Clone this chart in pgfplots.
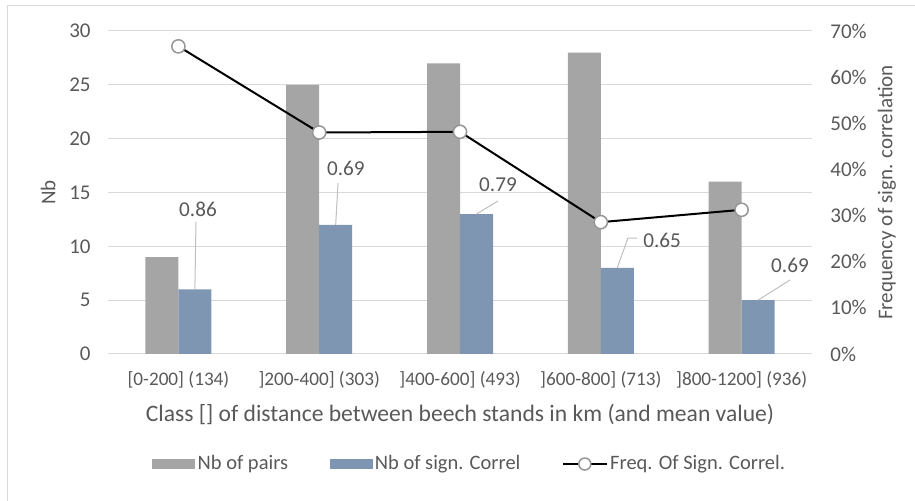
\documentclass[border=0pt]{standalone}
\usepackage{fontspec}
\setmainfont{Carlito}
\usepackage{pgfplots}
\pgfplotsset{compat=1.18}
\definecolor{pairsgray}{RGB}{165,165,165}
\definecolor{correlblue}{RGB}{127,150,178}
\definecolor{txtgray}{RGB}{89,89,89}
\definecolor{gridgray}{RGB}{217,217,217}
\definecolor{leadergray}{RGB}{191,191,191}
\definecolor{markgray}{RGB}{150,150,150}

\pgfplotsset{
  swatch/.style={legend image code/.code={\draw[##1,/tikz/.cd,draw=none] (0pt,-2.6pt) rectangle (21.5pt,2.6pt);}},
  lineleg/.style={legend image code/.code={%
    \draw[black, line width=1pt] (0pt,0pt) -- (22pt,0pt);
    \draw[fill=white, draw=markgray, line width=0.75pt] (11pt,0pt) circle (3pt);}},
}

\begin{document}
\begin{tikzpicture}
\useasboundingbox (0,0) rectangle (457.5pt,250.5pt);
\draw[gridgray, line width=0.5pt] (3.5pt,0) -- (3.5pt,247.5pt) -- (457.5pt,247.5pt);

% bars: counts
\begin{axis}[
  at={(54pt,73.5pt)}, anchor=south west,
  width=352pt, height=161.5pt, scale only axis,
  xmin=-0.5, xmax=4.5,
  ymin=0, ymax=30,
  xtick={0,1,2,3,4},
  xticklabels={{[0-200] (134)},{]200-400] (303)},{]400-600] (493)},{]600-800] (713)},{]800-1200] (936)}},
  ytick={0,5,...,30},
  ymajorgrids, major grid style={gridgray, line width=0.5pt},
  axis line style={draw=none},
  major tick length=0pt,
  /pgf/number format/assume math mode=true,
  yticklabel style={font=\fontsize{10.5}{12}\selectfont, text=txtgray, anchor=east, inner sep=0pt, xshift=-8.5pt},
  xticklabel style={font=\fontsize{9.6}{11}\selectfont, text=txtgray, anchor=center, inner sep=0pt, yshift=-13pt},
  ylabel={Nb},
  every axis y label/.style={at={(axis description cs:-0.085,0.5)}, anchor=center, rotate=90, font=\fontsize{10.5}{12}\selectfont, text=txtgray},
  xlabel={Class [] of distance between beech stands in km (and mean value)},
  every axis x label/.style={at={(axis description cs:0.5,-0.186)}, anchor=center, font=\fontsize{11.8}{13}\selectfont, text=txtgray},
  ybar=0pt, bar width=16.5pt,
  legend columns=3,
  legend style={at={(axis description cs:0.514,-0.3406)}, anchor=center, draw=none, fill=none,
    font=\fontsize{10.25}{12}\selectfont, nodes={inner sep=1.2pt, text=txtgray},
    /tikz/every even column/.append style={column sep=19.5pt}},
  legend cell align=left,
]
\addplot[fill=pairsgray, draw=none, swatch] coordinates {(0,9) (1,25) (2,27) (3,28) (4,16)};
\addlegendentry{Nb of pairs}
\addplot[fill=correlblue, draw=none, swatch] coordinates {(0,6) (1,12) (2,13) (3,8) (4,5)};
\addlegendentry{Nb of sign. Correl}
\addlegendimage{lineleg}
\addlegendentry{Freq. Of Sign. Correl.}

% data labels with leader lines
\begin{scope}[leadergray, line width=0.5pt]
\draw (axis cs:0.117,6) -- (axis cs:0.125,12.26);
\draw (axis cs:1.117,12) -- (axis cs:1.134,15.88);
\draw (axis cs:2.117,13) -- (axis cs:2.270,14.21);
\draw (axis cs:3.117,8) -- (axis cs:3.193,10.77) -- (axis cs:3.257,10.77);
\draw (axis cs:4.117,5) -- (axis cs:4.344,6.87);
\end{scope}
\begin{scope}[every node/.style={font=\fontsize{10.6}{12}\selectfont, text=txtgray, anchor=center}]
\node at (axis cs:0.139,13.47) {0.86};
\node at (axis cs:1.190,17.28) {0.69};
\node at (axis cs:2.270,15.70) {0.79};
\node at (axis cs:3.435,10.59) {0.65};
\node at (axis cs:4.344,8.27) {0.69};
\end{scope}
\end{axis}

% line: frequency of significant correlation
\begin{axis}[
  at={(54pt,73.5pt)}, anchor=south west,
  width=352pt, height=161.5pt, scale only axis,
  xmin=-0.5, xmax=4.5,
  ymin=0, ymax=70,
  axis x line=none, axis y line*=right,
  axis line style={draw=none},
  major tick length=0pt,
  ytick={0,10,...,70},
  /pgf/number format/assume math mode=true,
  yticklabel={\pgfmathprintnumber{\tick}\%},
  yticklabel style={font=\fontsize{10.5}{12}\selectfont, text=txtgray, anchor=west, inner sep=0pt, xshift=9pt},
  ylabel={Frequency of sign. correlation},
  every axis y label/.style={at={(axis description cs:1.1065,0.5)}, anchor=center, rotate=90, font=\fontsize{10.5}{12}\selectfont, text=txtgray},
]
\addplot[black, line width=1pt, mark=*, mark size=3.3pt, mark options={fill=white, draw=markgray, line width=0.75pt}]
  coordinates {(0,66.67) (1,48) (2,48.15) (3,28.57) (4,31.25)};
\end{axis}
\end{tikzpicture}
\end{document}
